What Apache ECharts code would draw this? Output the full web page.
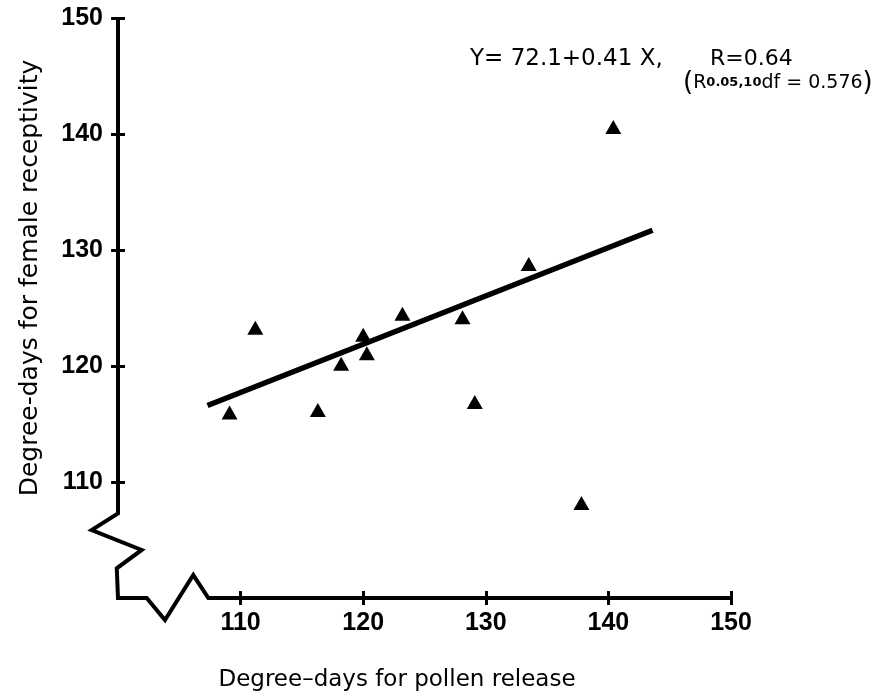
<!DOCTYPE html>
<html>
<head>
<meta charset="utf-8">
<script src="https://cdn.jsdelivr.net/npm/echarts@6.0.0/dist/echarts.min.js"></script>
<style>
  html, body { margin: 0; padding: 0; background: #fff; }
  #chart { width: 887px; height: 700px; }
</style>
</head>
<body>
<div id="chart"></div>
<script>
// 花粉散布 vs 雌花受容 (degree-days)
var pollenX = [109.1, 111.2, 116.3, 118.2, 120.0, 120.3, 123.2, 128.1, 129.1, 133.5, 137.8, 140.4];
var femaleY = [116.0, 123.3, 116.2, 120.2, 122.7, 121.1, 124.5, 124.2, 116.9, 128.8, 108.2, 140.6];

// regression line as drawn (Y = 72.1 + 0.41X)
var fitX = [107.3, 143.6];
var fitY = [116.6, 131.7];

var tickValues = [110, 120, 130, 140, 150];

// broken axis outline (zigzag near the origin), in data units
var axisPathX = [100, 100, 97.85, 101.93, 99.9, 100, 102.34, 103.83, 106.14, 107.37, 150];
var axisPathY = [150, 107.3, 105.86, 104.14, 102.56, 100, 100, 98.1, 101.98, 100, 100];

function zip(a, b) {
    var res = [];
    for (var i = 0; i < a.length; i++) {
        res.push([a[i], b[i]]);
    }
    return res;
}

var FONT = '"DejaVu Sans", "Liberation Sans", Arial, sans-serif';
var NUMFONT = '"Liberation Sans", Arial, Helvetica, sans-serif';
var INK = '#000';

function tickStyle(inside) {
    return {
        show: true,
        inside: inside,
        customValues: tickValues,
        length: 7,
        lineStyle: { color: INK, width: 3 }
    };
}

function valueAxis(extra) {
    var base = {
        type: 'value',
        min: 100,
        max: 150,
        interval: 10,
        axisLine: { show: false },
        splitLine: { show: false },
        axisTick: tickStyle(false),
        axisLabel: { show: false }
    };
    for (var k in extra) base[k] = extra[k];
    return base;
}

var labelStyle = {
    show: true,
    customValues: tickValues,
    fontFamily: NUMFONT,
    fontWeight: 'bold',
    fontSize: 25,
    color: INK
};

var chart = echarts.init(document.getElementById('chart'));

var option = {
    backgroundColor: '#fff',
    animation: false,
    grid: { left: 118, right: 156, top: 18, bottom: 102 },
    xAxis: [
        valueAxis({ position: 'bottom', axisLabel: Object.assign({ margin: 13 }, labelStyle) }),
        valueAxis({ position: 'bottom', axisTick: tickStyle(true) })
    ],
    yAxis: [
        valueAxis({ position: 'left', axisLabel: Object.assign({ margin: 15 }, labelStyle) }),
        valueAxis({ position: 'left', axisTick: tickStyle(true) })
    ],
    graphic: [
        {
            id: 'ytitle',
            type: 'text',
            x: 30, y: 278,
            rotation: Math.PI / 2,
            style: {
                text: 'Degree-days for female receptivity',
                font: '25px ' + FONT,
                fill: INK,
                align: 'center',
                verticalAlign: 'middle'
            }
        },
        {
            id: 'xtitle',
            type: 'text',
            x: 397, y: 680,
            style: {
                text: 'Degree\u2013days for pollen release',
                font: '23px ' + FONT,
                fill: INK,
                align: 'center',
                verticalAlign: 'middle'
            }
        },
        {
            id: 'eq',
            type: 'text',
            x: 470, y: 59,
            style: {
                text: 'Y= 72.1+0.41 X,',
                font: '23px ' + FONT,
                fill: INK,
                align: 'left',
                verticalAlign: 'middle'
            }
        },
        {
            id: 'r',
            type: 'text',
            x: 710, y: 59,
            style: {
                text: 'R=0.64',
                font: '22px ' + FONT,
                fill: INK,
                align: 'left',
                verticalAlign: 'middle'
            }
        },
        {
            id: 'rcrit',
            type: 'text',
            x: 683, y: 83,
            style: {
                text: '{p|(}{r|R}{s|0.05,10}{r|df = 0.576}{p|)}',
                fill: INK,
                align: 'left',
                verticalAlign: 'middle',
                rich: {
                    p: { fontFamily: FONT, fontSize: 26, color: INK },
                    r: { fontFamily: FONT, fontSize: 19, color: INK },
                    s: { fontFamily: FONT, fontSize: 13, fontWeight: 'bold', color: INK }
                }
            }
        }
    ],
    series: [
        {
            name: 'fit',
            type: 'line',
            symbol: 'none',
            data: zip(fitX, fitY),
            lineStyle: { color: INK, width: 5.5 },
            z: 2
        },
        {
            name: 'obs',
            type: 'scatter',
            symbol: 'triangle',
            symbolSize: [16, 14],
            itemStyle: { color: INK, opacity: 1 },
            data: zip(pollenX, femaleY),
            z: 3
        }
    ]
};

chart.setOption(option);

// 折れ線の軸 (軸スケールで座標変換、グリッド外にはみ出すのでgraphicで描く)
var axisPts = zip(axisPathX, axisPathY).map(function (p) {
    return chart.convertToPixel({ gridIndex: 0 }, p);
});
chart.setOption({
    graphic: [{
        id: 'brokenAxis',
        type: 'polyline',
        z: 1,
        shape: { points: axisPts },
        style: { stroke: INK, lineWidth: 4, fill: null, lineJoin: 'miter' }
    }]
});
</script>
</body>
</html>
